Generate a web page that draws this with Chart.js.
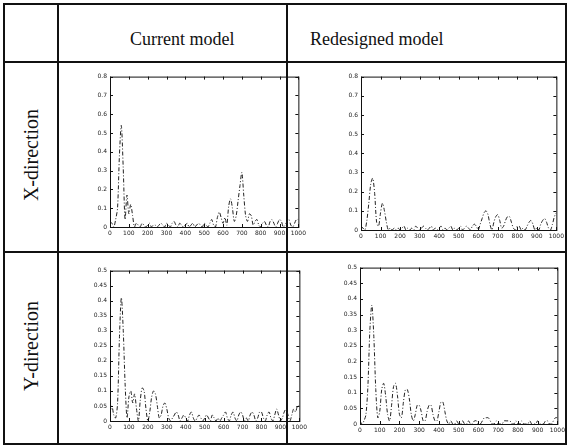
<!DOCTYPE html>
<html>
<head>
<meta charset="utf-8">
<script src="https://cdn.jsdelivr.net/npm/chart.js@4/dist/chart.umd.min.js"></script>
<style>
  body { margin: 0; background: #fff; width: 570px; height: 448px; position: relative; overflow: hidden; font-family: "Liberation Serif", "Times New Roman", serif; }
  .ln { position: absolute; background: #111; }
  .hd { position: absolute; font-size: 18px; color: #111; white-space: nowrap; }
  .rl { position: absolute; font-size: 20px; color: #111; white-space: nowrap; transform: translate(-50%, -50%) rotate(-90deg); }
  canvas { position: absolute; }
</style>
</head>
<body>
<div class="ln" style="left:3px;top:3px;width:564px;height:2px"></div>
<div class="ln" style="left:3px;top:443px;width:564px;height:2px"></div>
<div class="ln" style="left:3px;top:3px;width:2px;height:442px"></div>
<div class="ln" style="left:565px;top:3px;width:2px;height:442px"></div>
<div class="ln" style="left:57px;top:3px;width:2px;height:442px"></div>
<div class="ln" style="left:286px;top:3px;width:2px;height:442px"></div>
<div class="ln" style="left:3px;top:61px;width:564px;height:2px"></div>
<div class="ln" style="left:3px;top:251px;width:564px;height:2px"></div>

<div class="hd" style="left:130px;top:29px">Current model</div>
<div class="hd" style="left:310px;top:29px">Redesigned model</div>
<div class="rl" style="left:31px;top:155px">X-direction</div>
<div class="rl" style="left:31px;top:346px">Y-direction</div>

<canvas id="cTL"></canvas>
<canvas id="cTR"></canvas>
<canvas id="cBL"></canvas>
<canvas id="cBR"></canvas>

<script>
// frequency axis (0..1000)
const freq = [0,10,20,30,40,50,60,70,80,90,100,110,120,130,140,150,160,170,180,190,200,
  210,220,230,240,250,260,270,280,290,300,310,320,330,340,350,360,370,380,390,400,
  410,420,430,440,450,460,470,480,490,500,510,520,530,540,550,560,570,580,590,600,
  610,620,630,640,650,660,670,680,690,700,710,720,730,740,750,760,770,780,790,800,
  810,820,830,840,850,860,870,880,890,900,910,920,930,940,950,960,970,980,990,1000];
const xTicks = [0,100,200,300,400,500,600,700,800,900,1000];

// X-direction, current model
const xCurrent = [0.03,0.02,0.00,0.04,0.10,0.38,0.54,0.32,0.04,0.17,0.07,
  0.12,0.06,0.00,0.02,0.01,0.00,0.02,0.01,0.00,0.01,
  0.02,0.00,0.01,0.01,0.00,0.01,0.02,0.01,0.00,0.02,
  0.01,0.00,0.02,0.03,0.01,0.00,0.02,0.01,0.00,0.01,
  0.02,0.00,0.01,0.02,0.00,0.01,0.02,0.01,0.00,0.02,
  0.01,0.00,0.02,0.04,0.01,0.00,0.05,0.08,0.05,0.02,
  0.05,0.01,0.11,0.15,0.10,0.03,0.06,0.14,0.22,0.29,
  0.17,0.06,0.03,0.07,0.06,0.01,0.03,0.04,0.01,0.00,
  0.02,0.03,0.01,0.00,0.03,0.04,0.02,0.00,0.02,0.04,
  0.03,0.00,0.01,0.03,0.04,0.01,0.00,0.02,0.04,0.04];

// X-direction, redesigned model
const xRedesigned = [0.02,0.01,0.00,0.05,0.14,0.24,0.27,0.19,0.04,0.02,0.09,
  0.14,0.10,0.04,0.00,0.01,0.00,0.01,0.00,0.01,0.00,
  0.01,0.02,0.00,0.01,0.00,0.01,0.00,0.02,0.01,0.00,
  0.01,0.02,0.01,0.00,0.01,0.02,0.00,0.01,0.00,0.01,
  0.02,0.00,0.01,0.00,0.01,0.02,0.00,0.01,0.00,0.01,
  0.02,0.00,0.01,0.02,0.01,0.00,0.02,0.03,0.02,0.00,
  0.03,0.06,0.09,0.10,0.08,0.03,0.00,0.04,0.07,0.08,
  0.05,0.01,0.02,0.05,0.07,0.07,0.04,0.01,0.00,0.02,
  0.02,0.00,0.01,0.00,0.02,0.04,0.05,0.03,0.00,0.01,
  0.00,0.03,0.05,0.06,0.04,0.01,0.00,0.03,0.07,0.09];

// Y-direction, current model
const yCurrent = [0.03,0.05,0.02,0.01,0.06,0.28,0.41,0.30,0.12,0.01,0.08,
  0.10,0.06,0.09,0.04,0.00,0.07,0.11,0.10,0.04,0.00,
  0.03,0.08,0.10,0.09,0.05,0.01,0.02,0.05,0.06,0.04,
  0.01,0.00,0.01,0.02,0.03,0.02,0.00,0.01,0.02,0.01,
  0.00,0.02,0.03,0.01,0.00,0.01,0.02,0.01,0.00,0.01,
  0.02,0.01,0.00,0.02,0.01,0.00,0.01,0.00,0.01,0.02,
  0.03,0.01,0.00,0.02,0.03,0.01,0.00,0.02,0.03,0.02,
  0.00,0.01,0.00,0.02,0.03,0.02,0.00,0.01,0.03,0.03,
  0.01,0.00,0.02,0.03,0.01,0.00,0.02,0.04,0.02,0.00,
  0.01,0.03,0.04,0.02,0.00,0.02,0.04,0.03,0.05,0.05];

// Y-direction, redesigned model
const yRedesigned = [0.01,0.00,0.01,0.03,0.12,0.30,0.38,0.28,0.11,0.02,0.04,
  0.11,0.13,0.09,0.03,0.01,0.06,0.12,0.13,0.09,0.03,
  0.02,0.07,0.11,0.11,0.08,0.03,0.01,0.03,0.06,0.06,
  0.04,0.01,0.01,0.04,0.06,0.06,0.03,0.01,0.01,0.04,
  0.07,0.07,0.04,0.01,0.00,0.01,0.00,0.00,0.01,0.00,
  0.00,0.01,0.00,0.00,0.01,0.00,0.00,0.01,0.01,0.00,
  0.00,0.01,0.02,0.02,0.02,0.01,0.00,0.00,0.01,0.00,
  0.00,0.00,0.01,0.01,0.01,0.01,0.00,0.00,0.01,0.00,
  0.00,0.01,0.00,0.00,0.00,0.01,0.00,0.00,0.00,0.01,
  0.00,0.00,0.00,0.01,0.01,0.00,0.00,0.01,0.02,0.02];

const ticksX08 = [0,0.1,0.2,0.3,0.4,0.5,0.6,0.7,0.8];
const ticksY05 = [0,0.05,0.1,0.15,0.2,0.25,0.3,0.35,0.4,0.45,0.5];

// MATLAB style box with inward ticks
const boxPlugin = {
  id: 'box',
  afterDraw(chart) {
    const { ctx, chartArea: a, scales } = chart;
    ctx.save();
    ctx.strokeStyle = '#111';
    ctx.lineWidth = 1;
    ctx.strokeRect(a.left + 0.5, a.top + 0.5, a.right - a.left, a.bottom - a.top);
    ctx.beginPath();
    scales.x.ticks.forEach(t => {
      const px = Math.round(scales.x.getPixelForValue(t.value)) + 0.5;
      ctx.moveTo(px, a.bottom); ctx.lineTo(px, a.bottom - 3);
      ctx.moveTo(px, a.top); ctx.lineTo(px, a.top + 3);
    });
    scales.y.ticks.forEach(t => {
      const py = Math.round(scales.y.getPixelForValue(t.value)) + 0.5;
      ctx.moveTo(a.left, py); ctx.lineTo(a.left + 3, py);
      ctx.moveTo(a.right, py); ctx.lineTo(a.right - 3, py);
    });
    ctx.stroke();
    ctx.restore();
  }
};

function makeChart(id, area, values, yTicks) {
  const el = document.getElementById(id);
  const padL = 20, padT = 6, padR = 10, padB = 12;
  el.style.left = (area[0] - padL) + 'px';
  el.style.top = (area[1] - padT) + 'px';
  el.width = area[2] - area[0] + padL + padR;
  el.height = area[3] - area[1] + padT + padB;
  const yMax = yTicks[yTicks.length - 1];
  return new Chart(el.getContext('2d'), {
    type: 'line',
    data: {
      datasets: [{
        data: freq.map((f, i) => ({ x: f, y: values[i] })),
        borderColor: '#222',
        borderWidth: 1,
        borderDash: [4, 2, 1, 2],
        pointRadius: 0,
        tension: 0.3,
        fill: false
      }]
    },
    options: {
      responsive: false,
      animation: false,
      events: [],
      layout: { padding: { top: padT, right: padR, left: 0, bottom: 0 } },
      plugins: { legend: { display: false }, tooltip: { enabled: false } },
      scales: {
        x: {
          type: 'linear', min: 0, max: 1000,
          afterFit: s => { s.height = padB; },
          afterBuildTicks: s => { s.ticks = xTicks.map(v => ({ value: v })); },
          grid: { display: false, drawTicks: false },
          border: { display: false },
          ticks: { font: { size: 6, family: 'DejaVu Sans' }, color: '#222', padding: 3, maxRotation: 0, autoSkip: false,
            callback: v => String(v) }
        },
        y: {
          min: 0, max: yMax,
          afterFit: s => { s.width = padL; },
          afterBuildTicks: s => { s.ticks = yTicks.map(v => ({ value: v })); },
          grid: { display: false, drawTicks: false },
          border: { display: false },
          ticks: { font: { size: 6, family: 'DejaVu Sans' }, color: '#222', padding: 3,
            callback: v => String(Number(v.toFixed(2))) }
        }
      }
    },
    plugins: [boxPlugin]
  });
}

makeChart('cTL', [110, 76, 299, 227], xCurrent, ticksX08);
makeChart('cTR', [361, 76, 557, 230], xRedesigned, ticksX08);
makeChart('cBL', [110, 270, 300, 421], yCurrent, ticksY05);
makeChart('cBR', [360, 267, 558, 424], yRedesigned, ticksY05);
</script>
</body>
</html>
